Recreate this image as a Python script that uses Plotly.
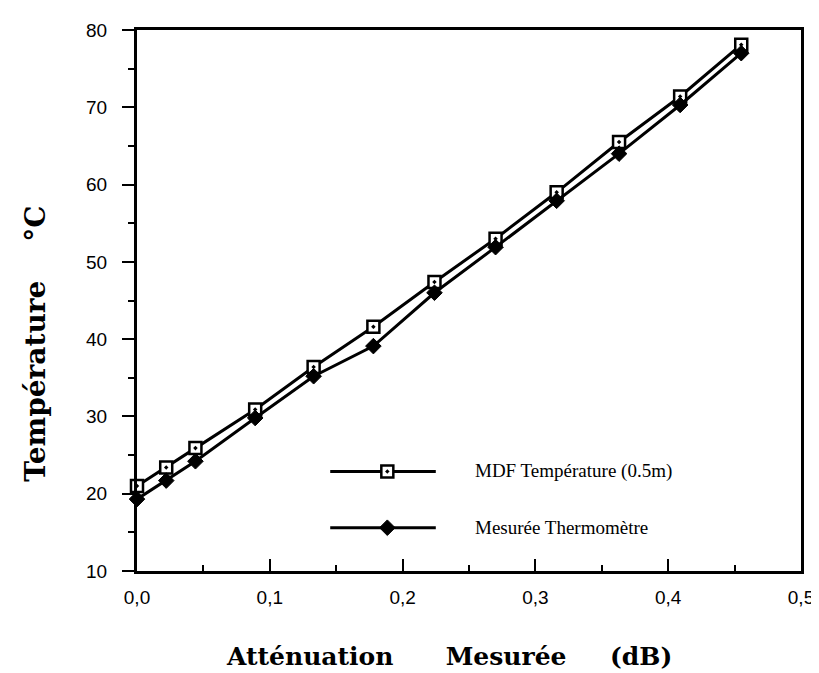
import plotly.graph_objects as go

# ---- data ----
attenuation = [0.0, 0.022, 0.044, 0.089, 0.133, 0.178, 0.224, 0.270, 0.316, 0.363, 0.409, 0.455]
mdf_temp = [21.0, 23.4, 25.9, 30.9, 36.4, 41.6, 47.4, 53.0, 59.0, 65.5, 71.4, 78.1]
mesuree_temp = [19.3, 21.7, 24.2, 29.8, 35.2, 39.1, 46.0, 51.9, 57.9, 64.0, 70.3, 77.0]

series_names = ["MDF Température (0.5m)", "Mesurée Thermomètre"]
x_tickvals = [0.0, 0.1, 0.2, 0.3, 0.4, 0.5]
x_ticktext = ["0,0", "0,1", "0,2", "0,3", "0,4", "0,5"]
y_tickvals = [10, 20, 30, 40, 50, 60, 70, 80]
x_title = "Atténuation" + "\u00a0" * 6 + "Mesurée" + "\u00a0" * 5 + "(dB)"
y_title = "Température" + "\u00a0" * 4 + "°C"

# ---- styling / positions (not data) ----
W, H = 819, 673
M = dict(l=129, r=26, t=15, b=110)
SERIF_B = "DejaVu Serif"
SANS = "Liberation Sans"
LEG = dict(y=[0.184, 0.080], x0=0.291, x1=0.450, xm=0.377, xt=0.506)

fig = go.Figure()

fig.add_trace(go.Scatter(
    x=attenuation, y=mdf_temp, mode="lines+markers", name=series_names[0],
    line=dict(color="black", width=3),
    marker=dict(symbol="square-dot", size=12, color="white",
                line=dict(color="black", width=2.5)),
    cliponaxis=False, showlegend=False))
fig.add_trace(go.Scatter(
    x=attenuation, y=mesuree_temp, mode="lines+markers", name=series_names[1],
    line=dict(color="black", width=3),
    marker=dict(symbol="diamond", size=12, color="black",
                line=dict(color="black", width=1)),
    cliponaxis=False, showlegend=False))

# legend samples on an overlay axis spanning the plot area (0..1)
symbols = [dict(symbol="square-dot", size=12, color="white", line=dict(color="black", width=2.5)),
           dict(symbol="diamond", size=12, color="black", line=dict(color="black", width=1))]
for i, name in enumerate(series_names):
    fig.add_trace(go.Scatter(
        x=[LEG["x0"], LEG["xm"], LEG["x1"]], y=[LEG["y"][i]] * 3,
        xaxis="x2", yaxis="y2", mode="lines", line=dict(color="black", width=3),
        hoverinfo="skip", showlegend=False))
    fig.add_trace(go.Scatter(
        x=[LEG["xm"]], y=[LEG["y"][i]], xaxis="x2", yaxis="y2", mode="markers",
        marker=symbols[i], hoverinfo="skip", showlegend=False))
    fig.add_annotation(x=LEG["xt"], y=LEG["y"][i], xref="paper", yref="paper",
                       text=name, showarrow=False, xanchor="left", yanchor="middle",
                       font=dict(family="Liberation Serif", size=19, color="black"))

axis_common = dict(showline=True, linecolor="black", linewidth=3, mirror=True,
                   showgrid=False, zeroline=False, tickcolor="black",
                   tickfont=dict(family=SANS, size=19, color="black"))

fig.update_layout(
    width=W, height=H, margin=M,
    paper_bgcolor="white", plot_bgcolor="white",
    xaxis=dict(range=[0, 0.5], tickvals=x_tickvals, ticktext=x_ticktext,
               ticks="inside", ticklen=12, tickwidth=2,
               minor=dict(dtick=0.05, ticks="inside", ticklen=6, tickwidth=2, tickcolor="black"),
               ticklabelstandoff=7, **axis_common),
    yaxis=dict(range=[10, 80], tickvals=y_tickvals,
               ticks="outside", ticklen=12, tickwidth=2,
               minor=dict(dtick=5, ticks="outside", ticklen=6, tickwidth=2, tickcolor="black"),
               ticklabelstandoff=11, **axis_common),
    xaxis2=dict(overlaying="x", range=[0, 1], visible=False),
    yaxis2=dict(overlaying="y", range=[0, 1], visible=False),
    showlegend=False,
)

fig.add_annotation(x=0.47, y=-0.158, xref="paper", yref="paper", text=x_title,
                   showarrow=False, xanchor="center", yanchor="middle",
                   font=dict(family=SERIF_B, size=25, color="black", weight="bold"))
fig.add_annotation(x=-0.152, y=0.42, xref="paper", yref="paper", text=y_title,
                   showarrow=False, textangle=-90, xanchor="center", yanchor="middle",
                   font=dict(family=SERIF_B, size=28, color="black", weight="bold"))

fig.write_html("out.html")
